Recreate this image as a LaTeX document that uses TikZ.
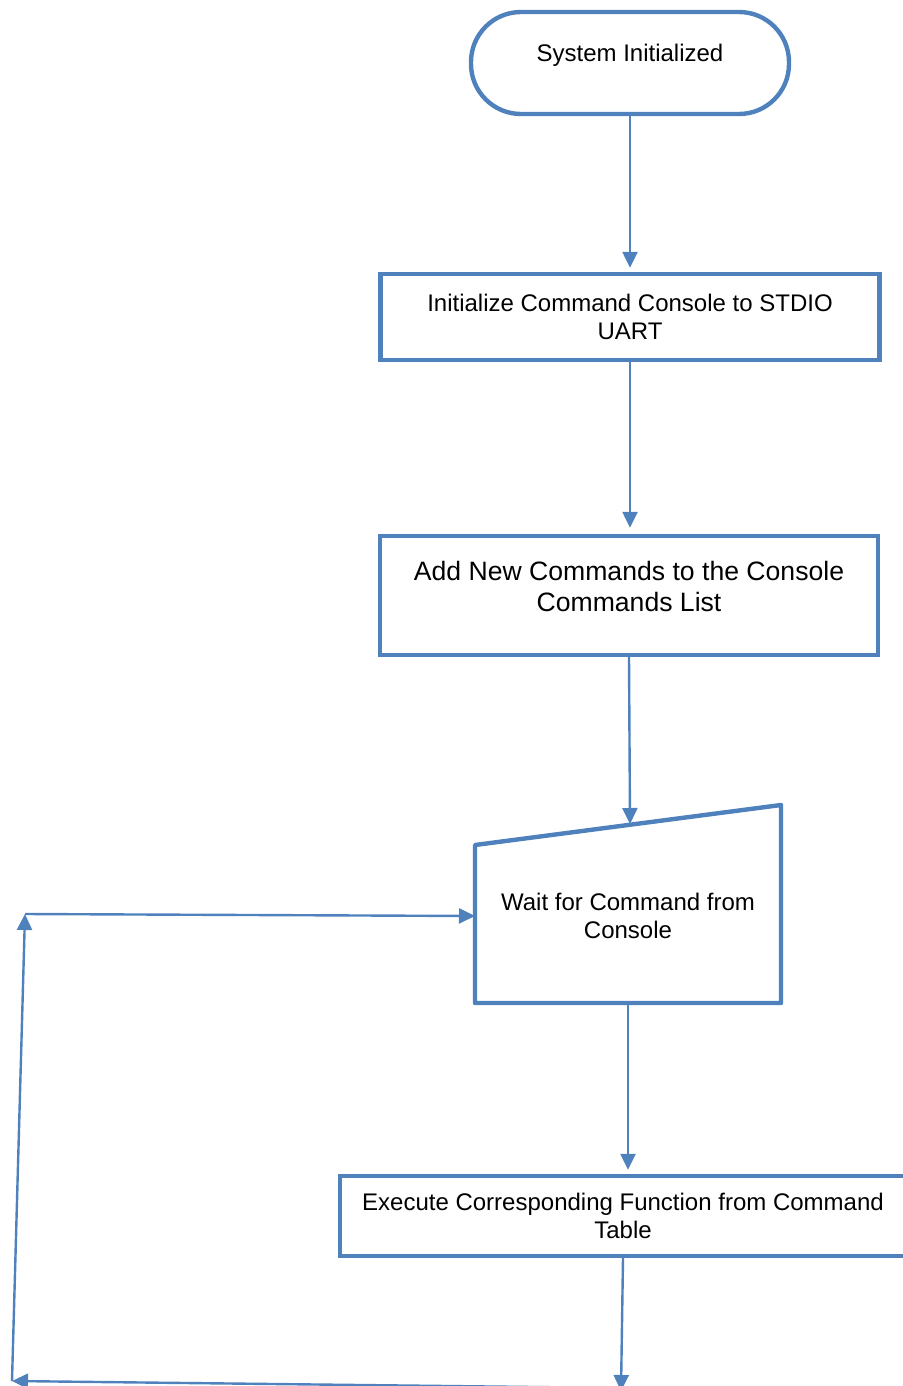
\documentclass[tikz,border=0pt]{standalone}
\usepackage{fontspec}
\setmainfont{Liberation Sans}
\usetikzlibrary{arrows.meta}
\definecolor{flowblue}{RGB}{79,129,189}
\tikzset{
  box/.style={draw=flowblue, line width=2.2pt, align=center, inner sep=0pt,
    font=\fontsize{12}{14}\selectfont},
  flow/.style={draw=flowblue, line width=1.2pt, -{Triangle[length=8pt,width=7.5pt]}},
}
\begin{document}
\begin{tikzpicture}[x=0.5pt,y=-0.5pt]
  \useasboundingbox (0,0) rectangle (902,1386);
  \node[box, rounded corners=25pt, minimum width=159pt, minimum height=51pt, text depth=10pt] (start) at (630,63) {System Initialized};
  \node[box, minimum width=249.5pt, minimum height=43pt] (init) at (630,317) {Initialize Command Console to STDIO\\UART};
  \node[box, minimum width=249pt, minimum height=59.5pt, text depth=9pt, font=\fontsize{13.3}{15.5}\selectfont] (add) at (629,595.5) {Add New Commands to the Console\\Commands List};
  % manual input shape
  \coordinate (w1) at (475,845);
  \coordinate (w2) at (781,805);
  \coordinate (w3) at (781,1003);
  \coordinate (w4) at (475,1003);
  \draw[flowblue, line width=2.2pt, line join=round] (w1) -- (w2) -- (w3) -- (w4) -- cycle;
  \node[align=center, inner sep=0pt, font=\fontsize{12}{14}\selectfont] (wait) at (628,916) {Wait for Command from\\Console};
  \coordinate (wtop) at (630,824);
  \coordinate (wbot) at (628,1003);
  \coordinate (wleft) at (475,916);
  \node[box, minimum width=283pt, minimum height=40pt] (exec) at (623,1216) {Execute Corresponding Function from Command\\Table};
  % connectors
  \draw[flow, shorten >=2pt] (start.south) -- (init.north);
  \draw[flow, shorten >=3pt] (init.south) -- (init.south |- add.north);
  \draw[flow] (add.south) -- (wtop);
  \draw[flow, shorten >=2pt] (wbot) -- (wbot |- exec.north);
  \coordinate (out) at (621,1391);
  \draw[flow] (exec.south) -- (out);
  % loop back
  \coordinate (loopr) at (621,1388);
  \coordinate (loopbl) at (12,1381);
  \coordinate (looptl) at (25,914);
  \draw[flow] (loopr) -- (loopbl);
  \draw[flow] (loopbl) -- (looptl);
  \draw[flow] (looptl) -- (wleft);
\end{tikzpicture}
\end{document}
